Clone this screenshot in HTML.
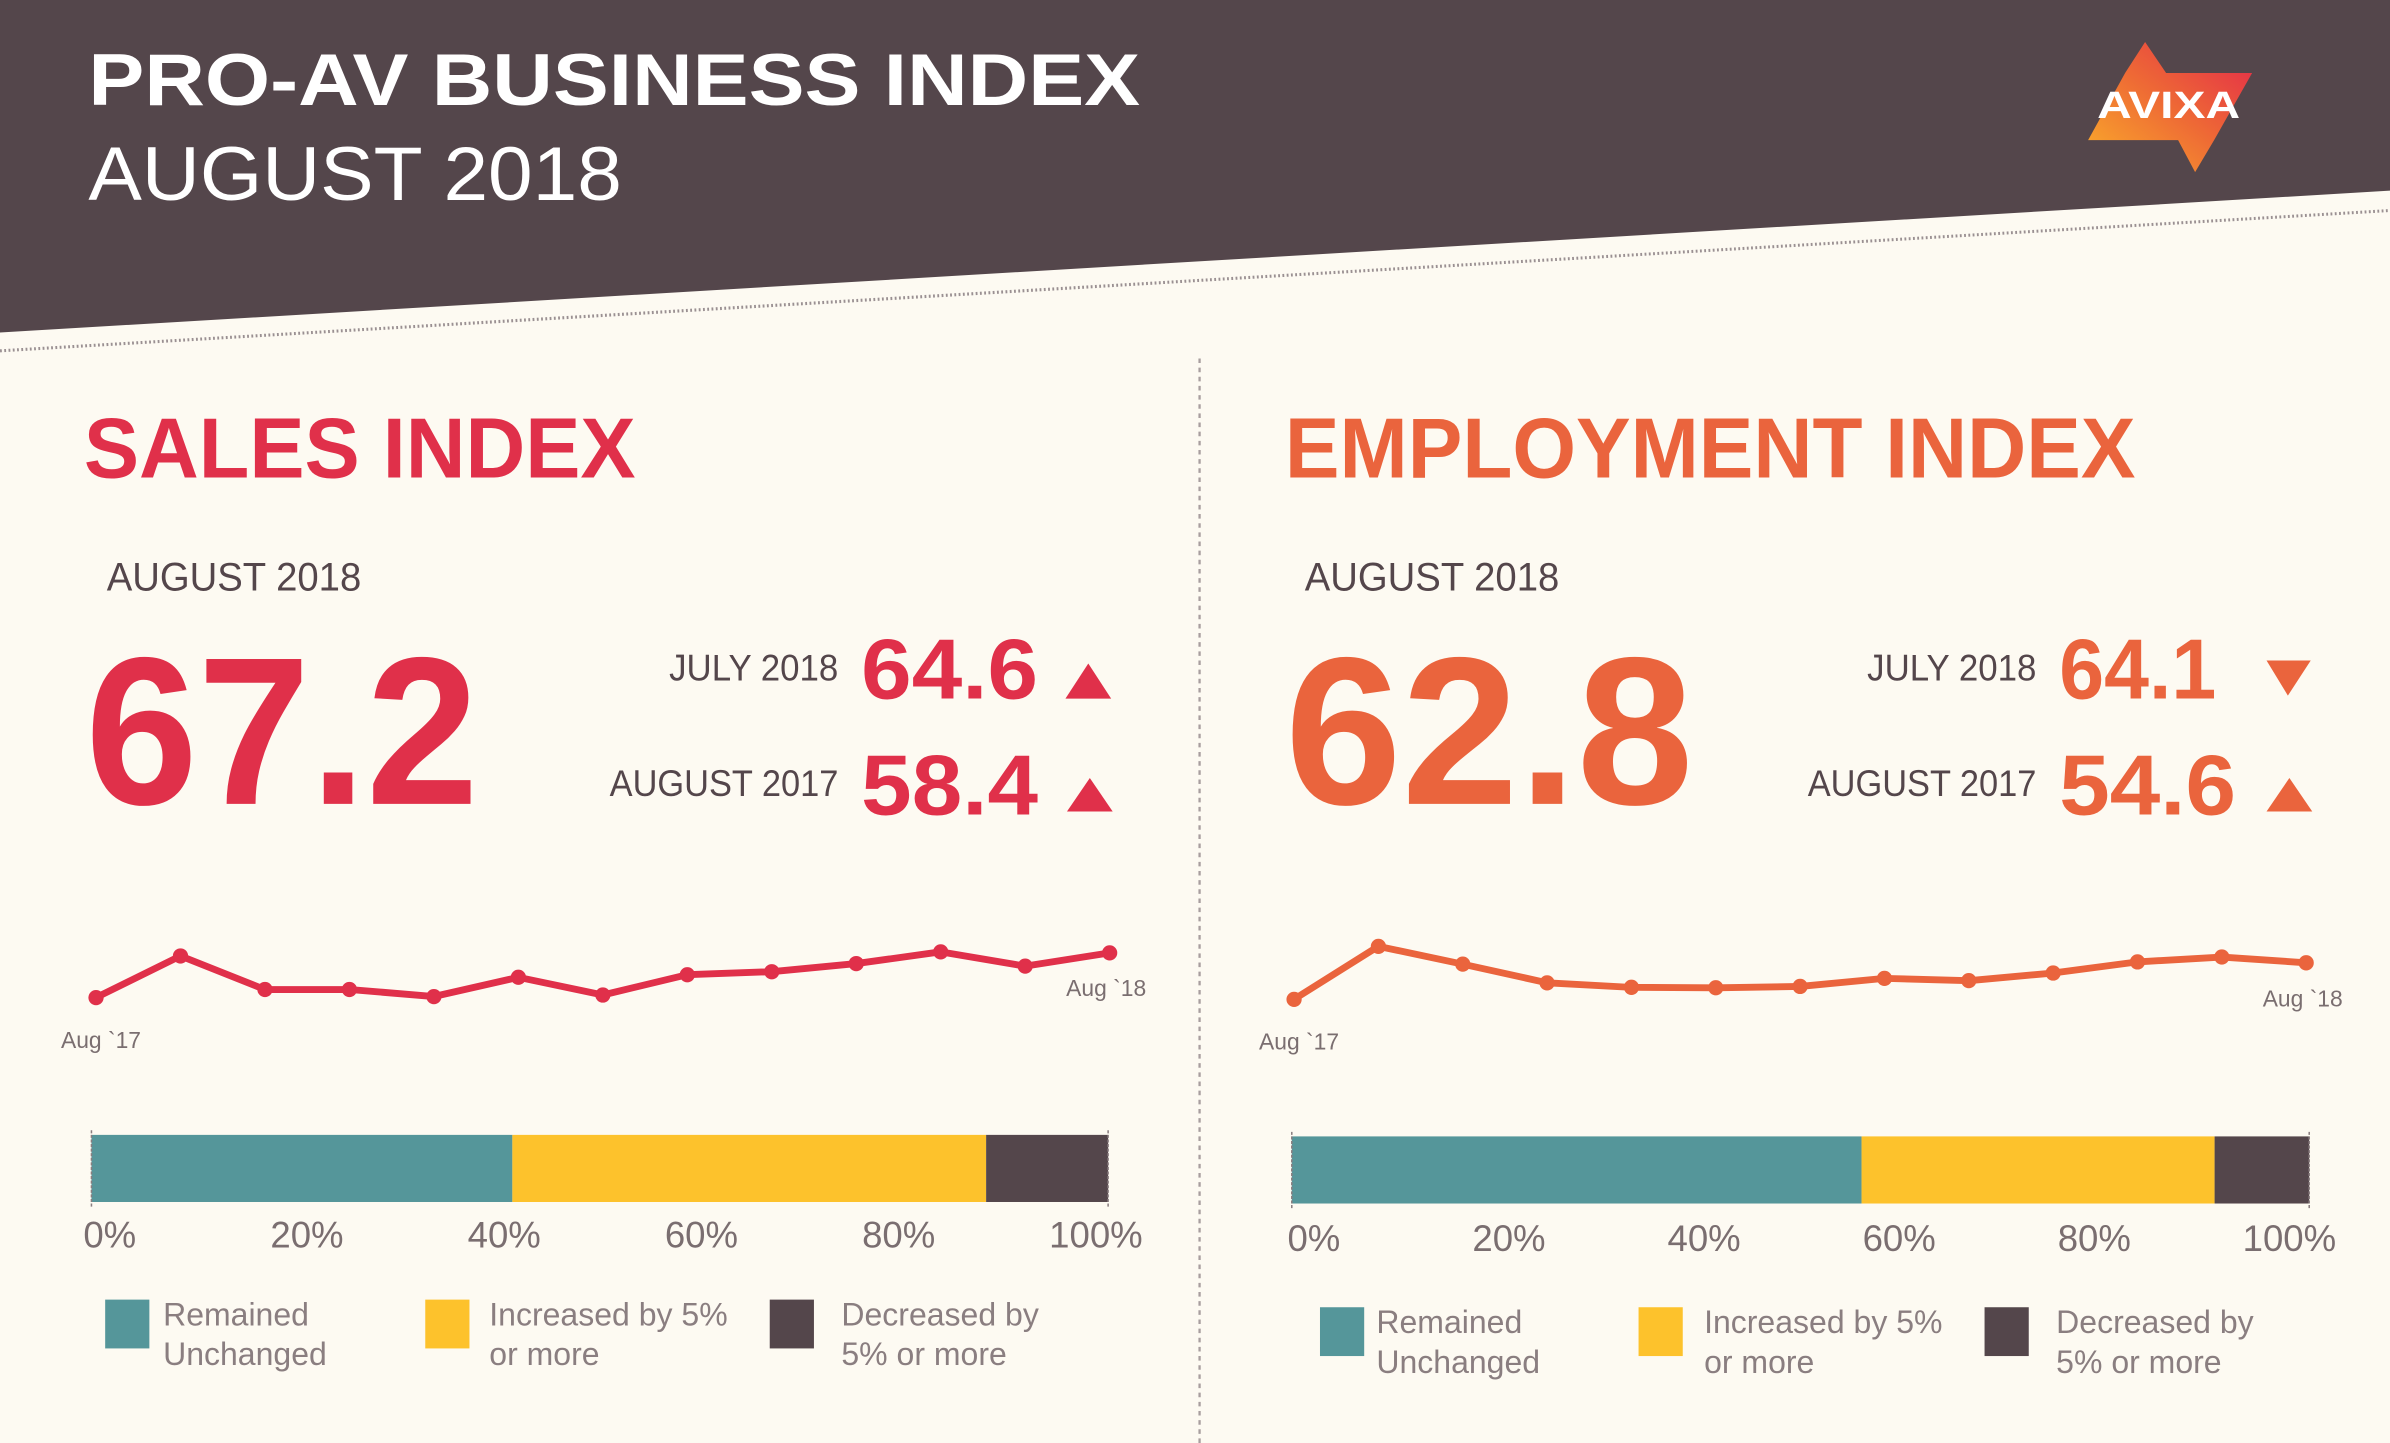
<!DOCTYPE html>
<html><head><meta charset="utf-8">
<style>
html,body{margin:0;padding:0;background:#fdfaf2;}
svg{display:block;}
text{font-family:"Liberation Sans",sans-serif;}
</style></head>
<body>
<svg id="root" width="2390" height="1443" viewBox="0 0 1568 946" preserveAspectRatio="none" xmlns="http://www.w3.org/2000/svg">
<defs>
<linearGradient id="lg" x1="0" y1="1" x2="1" y2="0">
<stop offset="0" stop-color="#fbb02a"/><stop offset="0.5" stop-color="#ee6a35"/><stop offset="1" stop-color="#e3284a"/>
</linearGradient>
</defs>
<rect x="0" y="0" width="1568" height="946" fill="#fdfaf2"/>
<polygon points="0,0 1568,0 1568,125 0,218" fill="#54464b"/>
<line x1="0" y1="230" x2="1568" y2="138" stroke="#9a9092" stroke-width="2" stroke-dasharray="1.2 1.6"/>
<text x="58" y="69" font-size="48" font-weight="bold" fill="#fff" textLength="690" lengthAdjust="spacingAndGlyphs">PRO-AV BUSINESS INDEX</text>
<text x="58" y="131" font-size="50" fill="#fff" textLength="350" lengthAdjust="spacingAndGlyphs">AUGUST 2018</text>
<g transform="scale(0.6561)">
<polygon points="2145,42 2166,73 2252,73 2214,140 2195,172 2178,140 2088,140 2125,73" fill="url(#lg)"/>
<text x="2097" y="118" font-size="38" font-weight="bold" fill="#fff" textLength="143" lengthAdjust="spacingAndGlyphs">AVIXA</text>
</g>
<line x1="787" y1="235" x2="787" y2="946" stroke="#a89e9f" stroke-width="1.5" stroke-dasharray="3 3"/>

<!-- SALES -->
<text x="55" y="313" font-size="56" font-weight="bold" fill="#e0304a" textLength="362" lengthAdjust="spacingAndGlyphs">SALES INDEX</text>
<text x="70" y="387" font-size="26" fill="#54464b" textLength="167" lengthAdjust="spacingAndGlyphs">AUGUST 2018</text>
<text x="56" y="527" font-size="138" font-weight="bold" fill="#e0304a" textLength="258" lengthAdjust="spacingAndGlyphs">67.2</text>
<text x="550" y="446" font-size="24" fill="#54464b" text-anchor="end" textLength="111" lengthAdjust="spacingAndGlyphs">JULY 2018</text>
<text x="565" y="458" font-size="56" font-weight="bold" fill="#e0304a" textLength="116" lengthAdjust="spacingAndGlyphs">64.6</text>
<polygon points="714,435 729,458 699,458" fill="#e0304a"/>
<text x="550" y="522" font-size="24" fill="#54464b" text-anchor="end" textLength="150" lengthAdjust="spacingAndGlyphs">AUGUST 2017</text>
<text x="565" y="534" font-size="56" font-weight="bold" fill="#e0304a" textLength="116" lengthAdjust="spacingAndGlyphs">58.4</text>
<polygon points="715,510 730,532 700,532" fill="#e0304a"/>

<!-- EMPLOYMENT -->
<text x="843" y="313" font-size="56" font-weight="bold" fill="#ea643d" textLength="558" lengthAdjust="spacingAndGlyphs">EMPLOYMENT INDEX</text>
<text x="856" y="387" font-size="26" fill="#54464b" textLength="167" lengthAdjust="spacingAndGlyphs">AUGUST 2018</text>
<text x="843" y="527" font-size="138" font-weight="bold" fill="#ea643d" textLength="268" lengthAdjust="spacingAndGlyphs">62.8</text>
<text x="1336" y="446" font-size="24" fill="#54464b" text-anchor="end" textLength="111" lengthAdjust="spacingAndGlyphs">JULY 2018</text>
<text x="1351" y="458" font-size="56" font-weight="bold" fill="#ea643d" textLength="103" lengthAdjust="spacingAndGlyphs">64.1</text>
<polygon points="1487,433 1516,433 1501,456" fill="#ea643d"/>
<text x="1336" y="522" font-size="24" fill="#54464b" text-anchor="end" textLength="150" lengthAdjust="spacingAndGlyphs">AUGUST 2017</text>
<text x="1351" y="534" font-size="56" font-weight="bold" fill="#ea643d" textLength="116" lengthAdjust="spacingAndGlyphs">54.6</text>
<polygon points="1502,510 1517,532 1487,532" fill="#ea643d"/>

<g id="charts"></g>
</svg>
<script>
var salesValues = [58.4, 66.6, 60.0, 60.0, 58.6, 62.4, 58.9, 62.9, 63.5, 65.1, 67.4, 64.6, 67.2];
var employmentValues = [54.6, 66.5, 62.5, 58.3, 57.3, 57.2, 57.5, 59.3, 58.8, 60.5, 63.0, 64.1, 62.8];
var salesShares = [41.4, 46.6, 12.0];
var employmentShares = [56.0, 34.7, 9.3];
var shareCategories = ["Remained Unchanged", "Increased by 5% or more", "Decreased by 5% or more"];
var tickLabels = ["0%", "20%", "40%", "60%", "80%", "100%"];

var NS = "http://www.w3.org/2000/svg";
var g = document.getElementById("charts");
function mk(tag, attrs, parent) {
  var e = document.createElementNS(NS, tag);
  for (var k in attrs) e.setAttribute(k, attrs[k]);
  (parent || g).appendChild(e);
  return e;
}
var shareColors = ["#55969a", "#fdc22c", "#54464b"];

function drawPanel(cfg) {
  var n = cfg.values.length;
  function xs(i) { return cfg.x0 + (cfg.x1 - cfg.x0) * i / (n - 1); }
  function ys(v) { return cfg.yRef - (v - cfg.vRef) * cfg.pxPerUnit; }
  var pts = cfg.values.map(function (v, i) { return xs(i).toFixed(1) + "," + ys(v).toFixed(1); }).join(" ");
  var line = mk("polyline", {points: pts, fill: "none", stroke: cfg.color, "stroke-width": 4.5, "stroke-linejoin": "round"});
  
  
  cfg.values.forEach(function (v, i) {
    var c = mk("circle", {cx: xs(i), cy: ys(v), r: 5, fill: cfg.color});
    
    
  });
  var t1 = mk("text", {x: xs(0) - 23, y: cfg.lbl17y, "font-size": 15, fill: "#7a6e70"});
  t1.textContent = "Aug `17";
  
  
  var t2 = mk("text", {x: xs(n - 1) + 24, y: cfg.lbl18y, "font-size": 15, fill: "#7a6e70", "text-anchor": "end"});
  t2.textContent = "Aug `18";
  
  

  // stacked bar
  function bx(p) { return cfg.bx0 + (cfg.bx1 - cfg.bx0) * p / 100; }
  var acc = 0;
  cfg.shares.forEach(function (s, i) {
    var r = mk("rect", {x: bx(acc), y: cfg.by, width: bx(acc + s) - bx(acc), height: 44, fill: shareColors[i]});
    
    
    acc += s;
  });
  [0, 100].forEach(function (p) {
    var l = mk("line", {x1: bx(p), x2: bx(p), y1: cfg.by - 3, y2: cfg.by + 47, stroke: "#8a7e80", "stroke-width": 1, "stroke-dasharray": "2 1"});
    
    
  });
  tickLabels.forEach(function (t, i) {
    var e = mk("text", {x: cfg.tx0 + cfg.tstep * i, y: cfg.ty, "font-size": 24, fill: "#7a6e70", "text-anchor": "middle"});
    e.textContent = t;
    
    
  });
  // legend
  shareCategories.forEach(function (c, i) {
    var sx = cfg.legX[i];
    var r = mk("rect", {x: sx, y: cfg.legY, width: 29, height: 32, fill: shareColors[i]});
    
    
    var words = i === 0 ? ["Remained", "Unchanged"] : (i === 1 ? ["Increased by 5%", "or more"] : ["Decreased by", "5% or more"]);
    var t = mk("text", {x: sx + cfg.legTextDx[i], y: cfg.legY + 17, "font-size": 21, fill: "#8a7e80"});
    
    
    words.forEach(function (w, j) {
      var ts = mk("tspan", {x: sx + cfg.legTextDx[i], dy: j === 0 ? 0 : 26}, t);
      ts.textContent = w;
    });
  });
}

drawPanel({prefix: "sales", values: salesValues, color: "#e0304a", x0: 63, x1: 728, yRef: 624.7, vRef: 67.2, pxPerUnit: 3.33,
  lbl17y: 687, lbl18y: 653, shares: salesShares, bx0: 60, bx1: 727, by: 744, tx0: 72, tstep: 129.4, ty: 818,
  legX: [69, 279, 505], legTextDx: [38, 42, 47], legY: 852});
drawPanel({prefix: "employment", values: employmentValues, color: "#ea643d", x0: 849, x1: 1513, yRef: 631.2, vRef: 62.8, pxPerUnit: 2.92,
  lbl17y: 688, lbl18y: 660, shares: employmentShares, bx0: 847.5, bx1: 1515, by: 745, tx0: 862, tstep: 128, ty: 820,
  legX: [866, 1075, 1302], legTextDx: [37, 43, 47], legY: 857});
</script>
</body></html>
